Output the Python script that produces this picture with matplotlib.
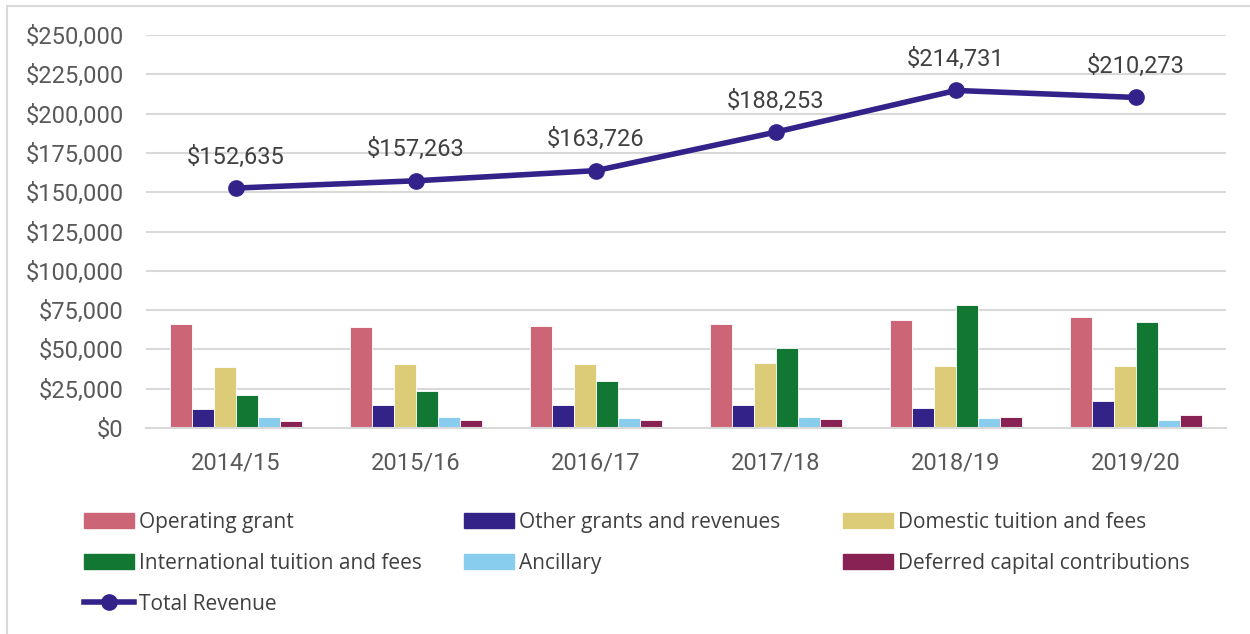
import matplotlib
matplotlib.use("Agg")
import matplotlib.pyplot as plt
import numpy as np
from matplotlib.lines import Line2D
from matplotlib.patches import Rectangle, Patch
from matplotlib.ticker import FuncFormatter, MultipleLocator

years = ["2014/15", "2015/16", "2016/17", "2017/18", "2018/19", "2019/20"]
operating_grant = [66000, 64500, 64900, 66400, 68500, 70900]
other_grants = [12300, 14400, 14900, 14900, 13000, 17400]
domestic_tuition = [39100, 40500, 40500, 41600, 39700, 39700]
international_tuition = [21300, 23500, 29900, 50700, 78200, 67200]
ancillary = [7000, 7000, 6600, 6800, 6200, 4900]
deferred_capital = [4700, 4900, 5100, 6000, 7300, 8300]
total_revenue = [152635, 157263, 163726, 188253, 214731, 210273]

series_names = ["Operating grant", "Other grants and revenues", "Domestic tuition and fees",
                "International tuition and fees", "Ancillary", "Deferred capital contributions"]
series_values = [operating_grant, other_grants, domestic_tuition,
                 international_tuition, ancillary, deferred_capital]
colors = ["#CC6677", "#332288", "#DDCC77", "#117733", "#88CCEE", "#882255"]
line_color = "#33228A"

plt.rcParams['font.family'] = ['Roboto', 'DejaVu Sans']

fig = plt.figure(figsize=(12.5, 6.34), dpi=100)
ax = fig.add_axes([146/1250, 1-428/634, 1080/1250, 393/634])

x = np.arange(len(years))
bw = 0.123
handles = []
for i, (name, vals, c) in enumerate(zip(series_names, series_values, colors)):
    ax.bar(x + (i - 2.5) * bw, vals, width=bw, color=c, edgecolor="white",
           linewidth=0.6, zorder=2, label=name)
    handles.append(Patch(facecolor=c, edgecolor=c, label=name))

ax.plot(x, total_revenue, color=line_color, linewidth=4, marker="o",
        markersize=11, zorder=4)
line_handle = Line2D([], [], color=line_color, linewidth=4, marker="o",
                     markersize=11, label="Total Revenue")

for xi, v in zip(x, total_revenue):
    ax.annotate(f"${v:,.0f}", (xi, v), xytext=(0, 14), textcoords="offset points",
                ha="center", va="bottom", fontsize=17, color="#404040")

ax.set_xlim(-0.5, 5.5)
ax.set_ylim(0, 250000)
ax.yaxis.set_major_locator(MultipleLocator(25000))
ax.yaxis.set_major_formatter(FuncFormatter(lambda v, p: f"${v:,.0f}"))
ax.set_xticks(x)
ax.set_xticklabels(years)
ax.tick_params(axis="both", length=0, labelsize=17, colors="#595959")
ax.tick_params(axis="y", pad=16)
ax.tick_params(axis="x", pad=17)
ax.grid(axis="y", color="#D9D9D9", linewidth=1.5, zorder=0)
ax.set_axisbelow(True)
for s in ["top", "right", "left"]:
    ax.spines[s].set_visible(False)
ax.spines["bottom"].set_color("#D9D9D9")
ax.spines["bottom"].set_linewidth(1.5)

# legend in three columns, row-major order
cols = [[handles[0], handles[3], line_handle], [handles[1], handles[4]], [handles[2], handles[5]]]
col_x = [84, 464, 843]
for hs, cx in zip(cols, col_x):
    fig.legend(handles=hs, loc="upper left", bbox_to_anchor=(cx/1250, 1-512/634),
               frameon=False, handlelength=2.4, handleheight=0.75,
               handletextpad=0.25, labelspacing=0.95, borderaxespad=0, borderpad=0,
               labelcolor="#404040", prop={'family': ['Open Sans', 'DejaVu Sans'], 'size': 15})

fig.patches.append(Rectangle((7/1250, -0.1), 1.2, 1 - 6/634 + 0.1, transform=fig.transFigure,
                             fill=False, edgecolor="#D9D9D9", linewidth=1.5))

fig.savefig("out.png", dpi=100)
